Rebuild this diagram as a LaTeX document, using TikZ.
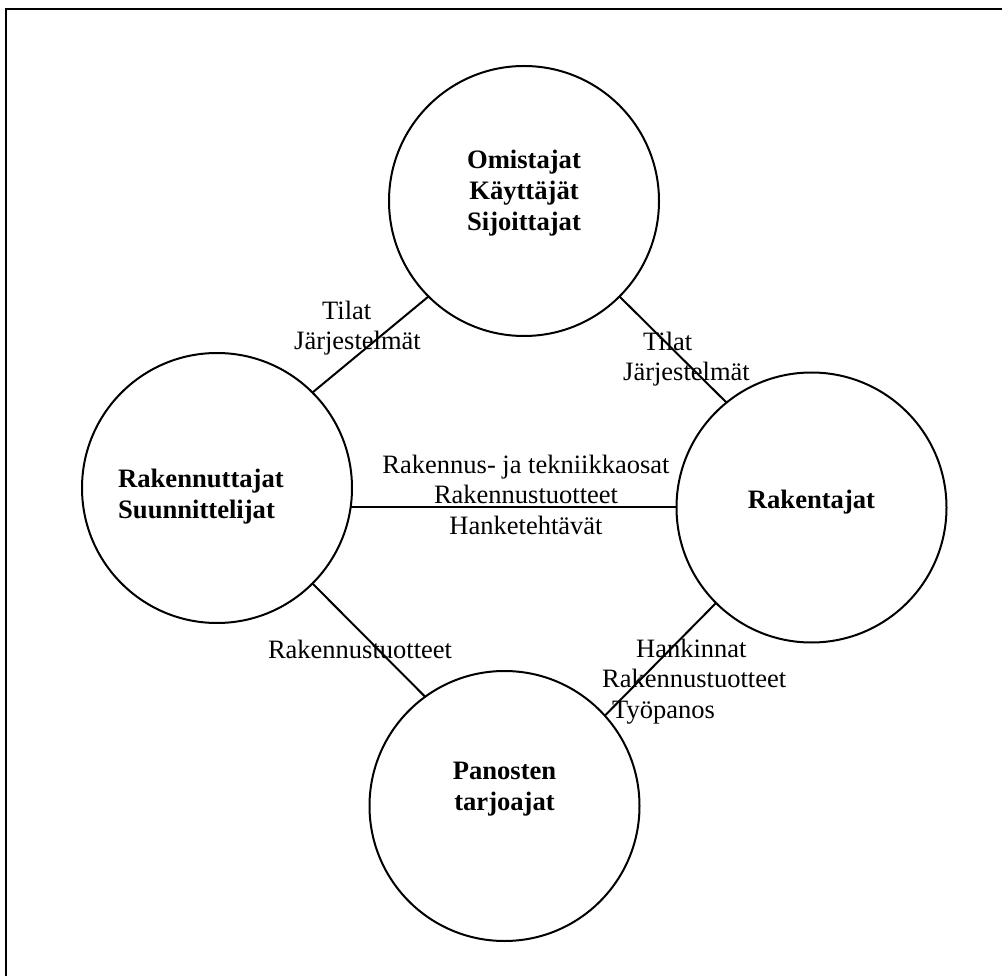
\documentclass[tikz,border=0pt]{standalone}
\usepackage{fontspec}
\setmainfont{Liberation Serif}
\begin{document}
\begin{tikzpicture}[x=1pt,y=-1pt,
  party/.style={circle,draw,line width=2pt,minimum size=270pt,inner sep=0pt,outer sep=0pt},
  partytext/.style={font=\fontsize{26.6}{31}\selectfont\bfseries,inner sep=0pt},
  flowlabel/.style={font=\fontsize{26.5}{30.5}\selectfont,inner sep=0pt},
  link/.style={line width=2pt}]
\useasboundingbox (0,0) rectangle (1002,976);
\draw[line width=2pt] (6,976) -- (6,9) -- (1002,9);
% circles
\node[party] (top) at (524,201) {};
\node[party] (left) at (217,488) {};
\node[party] (right) at (811.5,507.5) {};
\node[party] (bottom) at (504.5,806) {};
% circle texts (base anchor = baseline of the last line)
\node[partytext,anchor=base,align=center] (ttop) at (524,231) {Omistajat\\Käyttäjät\\Sijoittajat};
\node[partytext,anchor=base west,align=left] (tleft) at (118,518) {Rakennuttajat\\Suunnittelijat};
\node[partytext,anchor=base] (tright) at (811.5,508) {Rakentajat};
\node[partytext,anchor=base,align=center] (tbottom) at (504.5,810) {Panosten\\tarjoajat};
% connectors
\draw[link] (left.45) -- (top.225);
\draw[link] (top.-45) -- (right.129);
\draw[link] (left.-8.3) -- (left.-8.3 -| right.west);
\draw[link] (left.-45) -- (bottom.126);
\draw[link] (right.225) -- (bottom.42);
% connector labels
\node[flowlabel,anchor=base west,align=left] (l1) at (294,350) {\hspace*{28pt}Tilat\\Järjestelmät};
\node[flowlabel,anchor=base west,align=left] (l2) at (623,381) {\hspace*{20pt}Tilat\\Järjestelmät};
\node[flowlabel,anchor=base,align=center] (l3) at (526,534) {Rakennus- ja tekniikkaosat\\Rakennustuotteet\\Hanketehtävät};
\node[flowlabel,anchor=base] (l4) at (360,658) {Rakennustuotteet};
\node[flowlabel,anchor=base west,align=left] (l5) at (602,718) {\hspace*{34pt}Hankinnat\\Rakennustuotteet\\\hspace*{10pt}Työpanos};
\end{tikzpicture}
\end{document}
